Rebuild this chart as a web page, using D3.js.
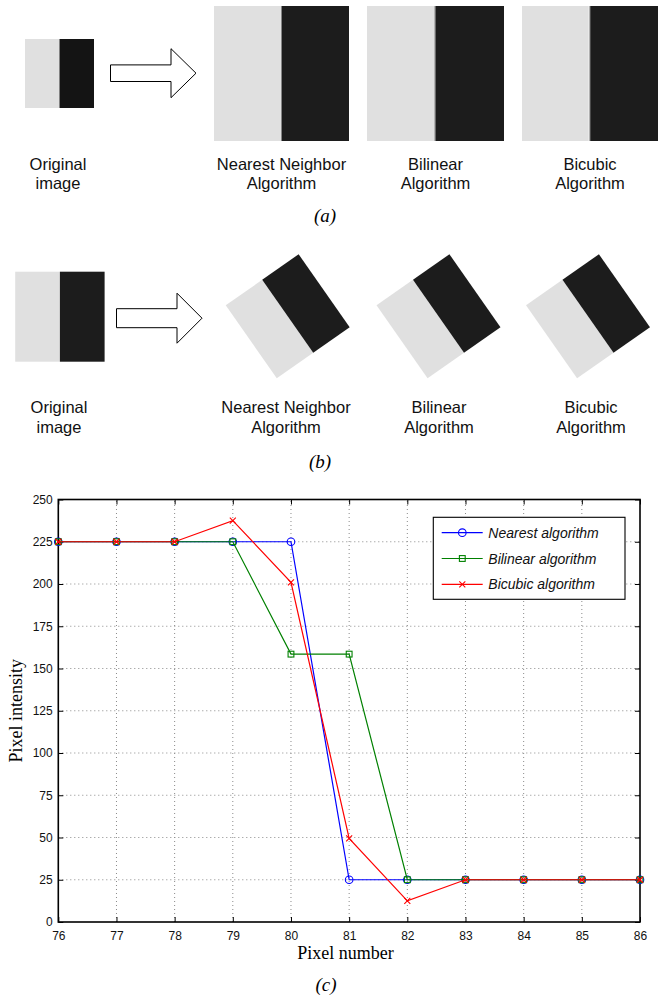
<!DOCTYPE html>
<html>
<head>
<meta charset="utf-8">
<script src="https://cdn.jsdelivr.net/npm/d3@7"></script>
<style>
  body { margin: 0; background: #fff; }
  svg { display: block; }
</style>
</head>
<body>
<svg id="fig"></svg>
<script>
var width = 661;
var height = 998;

// chart (c) data
var pixelNumber = [76, 77, 78, 79, 80, 81, 82, 83, 84, 85, 86];
var nearest  = [225, 225, 225, 225, 225, 25, 25, 25, 25, 25, 25];
var bilinear = [225, 225, 225, 225, 158.5, 158.5, 25, 25, 25, 25, 25];
var bicubic  = [225, 225, 225, 237.5, 201, 49.5, 12.5, 25, 25, 25, 25];
var seriesNames = ["Nearest algorithm", "Bilinear algorithm", "Bicubic algorithm"];
var yTicks = [0, 25, 50, 75, 100, 125, 150, 175, 200, 225, 250];

// labels of panels (a) and (b)
var imageLabels = [["Original", "image"], ["Nearest Neighbor", "Algorithm"], ["Bilinear", "Algorithm"], ["Bicubic", "Algorithm"]];
var captions = ["(a)", "(b)", "(c)"];

var sans = "'Liberation Sans', Arial, Helvetica, sans-serif";
var serif = "'Liberation Serif', 'Times New Roman', serif";
var light = "#e0e0e0";
var dark = "#1c1c1c";

var svg = d3.select("#fig").attr("width", width).attr("height", height);

// draws an image made of a light left half and dark right half
function halfImage(g, x, y, w, h, edge, darkColor) {
    g.append("rect").attr("x", x).attr("y", y).attr("width", w / 2).attr("height", h).attr("fill", light);
    g.append("rect").attr("x", x + w / 2).attr("y", y).attr("width", w / 2).attr("height", h).attr("fill", darkColor || dark);
    if (edge == "bilinear") {
        g.append("rect").attr("x", x + w / 2 - 1.5).attr("y", y).attr("width", 1).attr("height", h).attr("fill", "#b4b4b4");
        g.append("rect").attr("x", x + w / 2 - 0.5).attr("y", y).attr("width", 1).attr("height", h).attr("fill", "#6a6a6a");
    } else if (edge == "bicubic") {
        g.append("rect").attr("x", x + w / 2 - 1.5).attr("y", y).attr("width", 1).attr("height", h).attr("fill", "#f2f2f2");
        g.append("rect").attr("x", x + w / 2 - 0.5).attr("y", y).attr("width", 1).attr("height", h).attr("fill", "#7a7a7a");
    }
}

function arrow(g, x0, x1, x2, yMid, shaftHalf, headHalf) {
    var pts = [[x0, yMid - shaftHalf], [x1, yMid - shaftHalf], [x1, yMid - headHalf], [x2, yMid],
               [x1, yMid + headHalf], [x1, yMid + shaftHalf], [x0, yMid + shaftHalf]];
    g.append("polygon")
        .attr("points", pts.map(function (p) { return p.join(","); }).join(" "))
        .attr("fill", "#fff").attr("stroke", "#000").attr("stroke-width", 1);
}

function labels(g, centers, y1, y2) {
    imageLabels.forEach(function (l, i) {
        var t = g.append("text").attr("text-anchor", "middle")
            .style("font-family", sans).style("font-size", "16.5px").attr("fill", "#111");
        t.append("tspan").attr("x", centers[i]).attr("y", y1).text(l[0]);
        t.append("tspan").attr("x", centers[i]).attr("y", y2).text(l[1]);
    });
}

function caption(text, x, y) {
    svg.append("text").attr("x", x).attr("y", y).attr("text-anchor", "middle")
        .style("font-family", serif).style("font-style", "italic").style("font-size", "19px")
        .text(text);
}

// ---------- panel (a): scaling ----------
var pa = svg.append("g");
halfImage(pa, 25, 39, 69, 69, null, "#141414");
arrow(pa, 110.5, 171, 196, 73.2, 8.3, 24.5);
halfImage(pa, 214, 6, 135, 135, null);
halfImage(pa, 367, 6, 137, 135, "bilinear");
halfImage(pa, 522, 6, 136, 135, "bicubic");
labels(pa, [58, 281.5, 435.5, 590], 169.5, 188.5);
caption(captions[0], 325, 222);

// ---------- panel (b): rotation ----------
var pb = svg.append("g");
halfImage(pb, 15.2, 271.7, 89.4, 90, null);
arrow(pb, 116.5, 177, 202, 318.2, 9.5, 25);
[287.7, 438.5, 588].forEach(function (cx) {
    var r = pb.append("g").attr("transform", "translate(" + cx + ",316.3) rotate(-35)");
    halfImage(r, -44.5, -44.5, 89, 89, null);
});
labels(pb, [59, 286, 439, 591], 413.2, 433);
caption(captions[1], 320, 467.5);

// ---------- panel (c): line chart ----------
var plotLeft = 58.3, plotRight = 640, plotTop = 499.5, plotBottom = 922;

var x = d3.scaleLinear().domain([76, 86]).range([plotLeft, plotRight]);
var y = d3.scaleLinear().domain([0, 250]).range([plotBottom, plotTop]);

var pc = svg.append("g");

// dotted grid
pc.append("g").selectAll("line").data(pixelNumber.slice(1, -1)).enter().append("line")
    .attr("x1", function (d) { return x(d); }).attr("x2", function (d) { return x(d); })
    .attr("y1", plotBottom).attr("y2", plotTop)
    .attr("stroke", "#8a8a8a").attr("stroke-width", 1).attr("stroke-dasharray", "1,3");
pc.append("g").selectAll("line").data(yTicks.slice(1, -1)).enter().append("line")
    .attr("x1", plotLeft).attr("x2", plotRight)
    .attr("y1", function (d) { return y(d); }).attr("y2", function (d) { return y(d); })
    .attr("stroke", "#8a8a8a").attr("stroke-width", 1).attr("stroke-dasharray", "1,3");

// axes with inward ticks on all four sides
function styleAxis(g) {
    g.select(".domain").remove();
    g.selectAll("text").style("font-family", sans).style("font-size", "12px").attr("fill", "#111");
    g.selectAll("line").attr("stroke", "#000");
}
pc.append("g").attr("transform", "translate(0," + plotBottom + ")")
    .call(d3.axisBottom(x).tickValues(pixelNumber).tickFormat(d3.format("d")).tickSizeInner(-5).tickSizeOuter(0).tickPadding(9.3))
    .call(styleAxis);
pc.append("g").attr("transform", "translate(0," + plotTop + ")")
    .call(d3.axisTop(x).tickValues(pixelNumber).tickFormat("").tickSizeInner(-5).tickSizeOuter(0))
    .call(styleAxis);
pc.append("g").attr("transform", "translate(" + plotLeft + ",0)")
    .call(d3.axisLeft(y).tickValues(yTicks).tickFormat(d3.format("d")).tickSizeInner(-5).tickSizeOuter(0).tickPadding(5.6))
    .call(styleAxis);
pc.append("g").attr("transform", "translate(" + plotRight + ",0)")
    .call(d3.axisRight(y).tickValues(yTicks).tickFormat("").tickSizeInner(-5).tickSizeOuter(0))
    .call(styleAxis);

pc.append("rect").attr("x", plotLeft).attr("y", plotTop)
    .attr("width", plotRight - plotLeft).attr("height", plotBottom - plotTop)
    .attr("fill", "none").attr("stroke", "#000").attr("stroke-width", 1.6);

var series = [
    { name: seriesNames[0], values: nearest, color: "#0000ff", marker: "circle" },
    { name: seriesNames[1], values: bilinear, color: "#008000", marker: "square" },
    { name: seriesNames[2], values: bicubic, color: "#ff0000", marker: "cross" }
];

function drawMarker(g, type, cx, cy, color) {
    if (type == "circle") {
        g.append("circle").attr("cx", cx).attr("cy", cy).attr("r", 3.8)
            .attr("fill", "none").attr("stroke", color).attr("stroke-width", 1.1);
    } else if (type == "square") {
        g.append("rect").attr("x", cx - 2.9).attr("y", cy - 2.9).attr("width", 5.8).attr("height", 5.8)
            .attr("fill", "none").attr("stroke", color).attr("stroke-width", 1.1);
    } else {
        g.append("path").attr("d", "M" + (cx - 3) + "," + (cy - 3) + "L" + (cx + 3) + "," + (cy + 3) +
            "M" + (cx - 3) + "," + (cy + 3) + "L" + (cx + 3) + "," + (cy - 3))
            .attr("stroke", color).attr("stroke-width", 1.1);
    }
}

var line = d3.line()
    .x(function (d, i) { return x(pixelNumber[i]); })
    .y(function (d) { return y(d); });

series.forEach(function (s) {
    var g = pc.append("g");
    g.append("path").datum(s.values).attr("d", line)
        .attr("fill", "none").attr("stroke", s.color).attr("stroke-width", 1.2);
    s.values.forEach(function (v, i) {
        drawMarker(g, s.marker, x(pixelNumber[i]), y(v), s.color);
    });
});

// legend
var leg = pc.append("g");
leg.append("rect").attr("x", 433.3).attr("y", 517.3).attr("width", 191.7).attr("height", 82)
    .attr("fill", "#fff").attr("stroke", "#000").attr("stroke-width", 1.1);
series.forEach(function (s, i) {
    var ly = 532.7 + i * 25.8;
    leg.append("line").attr("x1", 441.7).attr("x2", 482.7).attr("y1", ly).attr("y2", ly)
        .attr("stroke", s.color).attr("stroke-width", 1.2);
    drawMarker(leg, s.marker, 462.3, ly, s.color);
    leg.append("text").attr("x", 488.3).attr("y", ly + 5)
        .style("font-family", sans).style("font-style", "italic").style("font-size", "14px")
        .attr("fill", "#111").text(s.name);
});

// axis titles
pc.append("text").attr("x", 345.5).attr("y", 959.3).attr("text-anchor", "middle")
    .style("font-family", serif).style("font-size", "18px").text("Pixel number");
pc.append("text").attr("transform", "translate(22," + ((plotTop + plotBottom) / 2) + ") rotate(-90)")
    .attr("text-anchor", "middle")
    .style("font-family", serif).style("font-size", "18px").text("Pixel intensity");

caption(captions[2], 326, 991);
</script>
</body>
</html>
